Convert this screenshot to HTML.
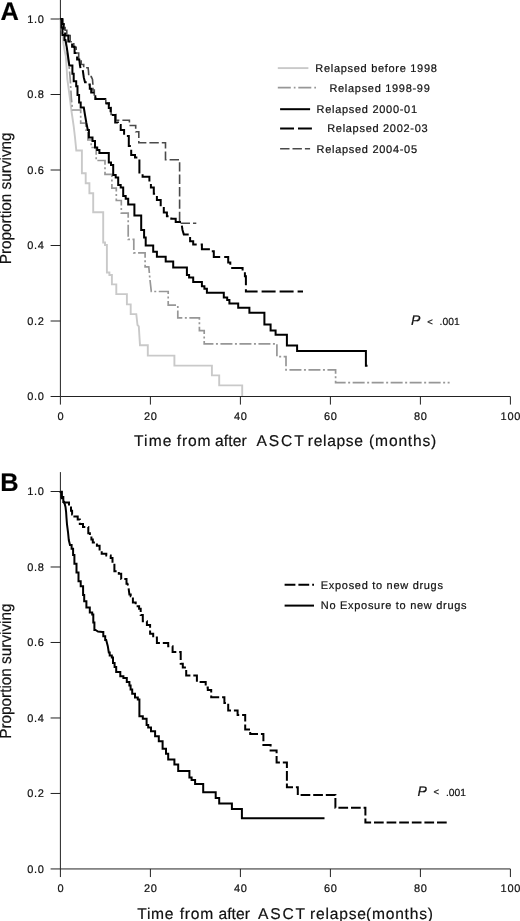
<!DOCTYPE html>
<html><head><meta charset="utf-8"><title>Figure</title>
<style>html,body{margin:0;padding:0;background:#fff}svg{display:block;filter:grayscale(1)}</style>
</head><body>
<svg width="520" height="921" viewBox="0 0 520 921">
<style>
text{font-family:"Liberation Sans",Arial,sans-serif;text-rendering:geometricPrecision;fill:#111;stroke:#111;stroke-width:.2px}
.t{font-size:11px;letter-spacing:.7px}
.ax{font-size:15.6px}
.yl{font-size:16.2px}
.pl{font-size:25.4px;font-weight:bold;fill:#000}
.c{fill:none;stroke-linejoin:miter;stroke-linecap:butt}
</style>
<rect width="520" height="921" fill="#fff"/>
<path d="M60.4,0V396.5" stroke="#222" stroke-width="1" fill="none"/>
<path d="M60.4,396.5H510.4" stroke="#222" stroke-width="1" fill="none"/>
<path d="M50.6,19.00H60.4" stroke="#222" stroke-width="1" fill="none"/>
<text x="44.6" y="22.9" text-anchor="end" class="t">1.0</text>
<path d="M50.6,94.50H60.4" stroke="#222" stroke-width="1" fill="none"/>
<text x="44.6" y="98.4" text-anchor="end" class="t">0.8</text>
<path d="M50.6,170.00H60.4" stroke="#222" stroke-width="1" fill="none"/>
<text x="44.6" y="173.9" text-anchor="end" class="t">0.6</text>
<path d="M50.6,245.50H60.4" stroke="#222" stroke-width="1" fill="none"/>
<text x="44.6" y="249.4" text-anchor="end" class="t">0.4</text>
<path d="M50.6,321.00H60.4" stroke="#222" stroke-width="1" fill="none"/>
<text x="44.6" y="324.9" text-anchor="end" class="t">0.2</text>
<path d="M50.6,396.50H60.4" stroke="#222" stroke-width="1" fill="none"/>
<text x="44.6" y="400.4" text-anchor="end" class="t">0.0</text>
<path d="M60.40,396.5V404.60" stroke="#222" stroke-width="1" fill="none"/>
<text x="60.8" y="419.9" text-anchor="middle" class="t">0</text>
<path d="M150.40,396.5V404.60" stroke="#222" stroke-width="1" fill="none"/>
<text x="150.8" y="419.9" text-anchor="middle" class="t">20</text>
<path d="M240.40,396.5V404.60" stroke="#222" stroke-width="1" fill="none"/>
<text x="240.8" y="419.9" text-anchor="middle" class="t">40</text>
<path d="M330.40,396.5V404.60" stroke="#222" stroke-width="1" fill="none"/>
<text x="330.8" y="419.9" text-anchor="middle" class="t">60</text>
<path d="M420.40,396.5V404.60" stroke="#222" stroke-width="1" fill="none"/>
<text x="420.8" y="419.9" text-anchor="middle" class="t">80</text>
<path d="M510.40,396.5V404.60" stroke="#222" stroke-width="1" fill="none"/>
<text x="510.8" y="419.9" text-anchor="middle" class="t">100</text>
<path class="c" d="M60.5,19.0L61.5,28.0L62.5,36.0L63.5,44.0L64.5,50.0L65.8,56.0L66.5,66.0L67.3,79.0L68.8,90.0L70.0,99.0L71.3,110.0L72.5,118.0L73.8,127.0L75.0,137.5L76.3,150.5H81.9V173.2H85.7V183.2H89.4V193.2H93.2V212.2H103.2V242.5H105.0V245.0H106.9V272.5H109.4V275.0H111.9V284.4H116.3V294.1H126.9V304.4H130.7V314.1H136.3L137.5,325.0L138.8,326.3L140.0,345.2H147.8V355.6H174.4V365.6H211.9V375.4H219.2V385.4H242.2V396.0" stroke="#c9c9c9" stroke-width="1.9"/>
<path class="c" d="M61.0,19.0V27.5H62.2V35.0H63.4H64.3V40.0H65.2L66.5,47.5L67.7,56.0L69.0,65.0L70.3,80.0L71.3,97.5L72.5,110.0H80.7V123.2H85.8V130.0H87.9V140.0H90.0H91.2V147.5H92.5H96.2V160.5H100.0H105.0V174.4H111.9V188.2H116.3V200.5H121.3V213.2H128.2V239.4H133.8V252.8H143.8H145.1V266.8H146.3H148.8L150.0,280.0L151.3,291.5H168.2V305.2H177.8V317.9H199.4V330.6H204.2V343.8H276.9V356.6H285.0H286.0V369.8H287.0H335.6V382.6H449.6" stroke="#979797" stroke-width="1.7" stroke-dasharray="12 2.5 2 2.5"/>
<path class="c" d="M60.5,19.0H63.0V24.2H65.1V30.2H66.8V35.5H70.2V41.8H73.8V47.2H76.2V53.0H78.7V59.5H81.2V64.5H83.7V67.8H88.1L88.5,71.3L88.8,76.6H91.3L92.5,79.4L93.1,86.9L92.8,90.0H94.3V96.0H95.8V98.8H105.8V102.9H109.2V107.5H111.1V114.5H113.0H115.9V120.2H129.4V125.5H135.7V131.8H138.8V142.8H165.5V159.8H179.6V223.2H196.3" stroke="#4a4a4a" stroke-width="1.6" stroke-dasharray="9.4 3"/>
<path class="c" d="M60.5,19.1H61.4V27.5H62.5V35.0H63.6H64.5V40.0H65.5L66.8,47.5L68.0,56.0L69.3,65.5H72.4V73.8H73.7V81.3H75.0H76.2V86.3H77.5V95.0H79.1V102.5H80.7V107.5H83.8L85.0,115.0L86.3,122.5L87.8,130.0H88.9V137.5H90.0H92.5V141.0H95.0V147.5H97.2V150.0H99.4V153.0H108.8V162.5H111.0V165.0H113.2V175.0H115.7V177.5H118.2V185.0H120.7V187.5H123.2V196.0H125.7V198.8H128.2V204.4H134.4V215.5H140.0H141.2V230.0H142.5H144.1V237.5H145.7V245.5H153.2V251.8H156.9V256.8H165.7V261.4H173.2V267.5H186.9V275.0H189.1V277.5H191.3H193.2V281.9H195.0H201.9V286.3H204.4V288.8H206.9V292.8H222.5H223.8V297.5H225.0H227.2V300.0H229.4V303.4H238.2V307.8H249.4V312.8H264.4V324.4H270.6V330.6H275.6V334.8H286.9V345.6H296.3H297.1V351.1H298.0H365.9V365.8H367.5" stroke="#000" stroke-width="2"/>
<path class="c" d="M60.5,19.0H62.0V23.9H63.7V30.1H65.1V35.5H68.3V41.5H72.1V46.8H74.6V53.1H77.1V59.4H79.3L79.9,65.0L80.5,68.2H82.5L83.1,72.5L83.8,77.5L85.0,82.2H88.3V84.4H89.8V88.8H91.2V92.5H93.3V96.3H95.3V99.1H105.3V103.4H108.8V108.0H110.6V115.0H112.5H115.2V122.5H117.9V125.0H120.7V130.0H124.1V136.0H127.5H128.8V146.0H130.0H131.2V155.0H132.5H135.0V157.5H137.5H139.4V172.5H141.3H142.6V176.8H143.8H149.4V183.8H150.9V187.5H152.5H153.8V193.8H155.0H156.9V200.0H158.8H160.7V206.3H162.5H163.8V212.5H165.0H166.9V216.3H168.8H171.3V218.8H173.8H175.7V221.9H177.5H181.3L182.5,230.0L183.8,234.4H188.8H190.1V241.3H191.3H193.2V244.4H195.0H201.9V249.2H208.8H210.7V251.3H212.5H213.8V256.9H215.0H228.2V262.5H230.3V267.9H232.5H241.3H242.6V271.3H243.8H244.9V276.3H245.9V291.5H303.0" stroke="#000" stroke-width="2" stroke-dasharray="14 4"/>
<path class="c" d="M277.8,68.1H308.4" stroke="#c9c9c9" stroke-width="1.9"/>
<path class="c" d="M277.8,87.6H316" stroke="#979797" stroke-width="1.7" stroke-dasharray="13 3 1.7 2.8"/>
<path class="c" d="M280.1,109.2H310.1" stroke="#000" stroke-width="2"/>
<path class="c" d="M280.1,128.4H312" stroke="#000" stroke-width="2" stroke-dasharray="13.9 4"/>
<path class="c" d="M280.1,148.8H310.1" stroke="#4a4a4a" stroke-width="1.6" stroke-dasharray="9.4 3"/>
<text class="t" x="315.3" y="71.7">Relapsed before 1998</text>
<text class="t" x="329.4" y="91.6">Relapsed 1998-99</text>
<text class="t" x="316.6" y="113">Relapsed 2000-01</text>
<text class="t" x="327.2" y="132.4">Relapsed 2002-03</text>
<text class="t" x="316.6" y="152.8">Relapsed 2004-05</text>
<text x="411" y="325" style="font-size:14px;font-style:italic">P</text>
<text class="t" x="427.2" y="324.6" style="font-size:9.5px">&lt;</text>
<text class="t" x="439.6" y="324.8" style="font-size:10.3px;letter-spacing:0">.001</text>
<text class="ax" y="445.8"><tspan x="134.1" style="letter-spacing:1.07px">Time </tspan><tspan x="176.8" style="letter-spacing:0.8px">from </tspan><tspan x="215.0" style="letter-spacing:0.1px">after </tspan><tspan x="256.4" style="letter-spacing:1.95px">ASCT </tspan><tspan x="307.8" style="letter-spacing:0.68px">relapse </tspan><tspan x="369.1" style="letter-spacing:0.81px">(months)</tspan></text>
<text class="yl" transform="translate(11.3,264.3) rotate(-90) scale(0.946,1)">Proportion survivng</text>
<text class="pl" x="0.6" y="20.1">A</text>
<path d="M60.4,472.1V868.95" stroke="#222" stroke-width="1" fill="none"/>
<path d="M60.4,868.95H510.4" stroke="#222" stroke-width="1" fill="none"/>
<path d="M50.6,491.50H60.4" stroke="#222" stroke-width="1" fill="none"/>
<text x="44.6" y="495.4" text-anchor="end" class="t">1.0</text>
<path d="M50.6,566.99H60.4" stroke="#222" stroke-width="1" fill="none"/>
<text x="44.6" y="570.9" text-anchor="end" class="t">0.8</text>
<path d="M50.6,642.48H60.4" stroke="#222" stroke-width="1" fill="none"/>
<text x="44.6" y="646.4" text-anchor="end" class="t">0.6</text>
<path d="M50.6,717.97H60.4" stroke="#222" stroke-width="1" fill="none"/>
<text x="44.6" y="721.9" text-anchor="end" class="t">0.4</text>
<path d="M50.6,793.46H60.4" stroke="#222" stroke-width="1" fill="none"/>
<text x="44.6" y="797.4" text-anchor="end" class="t">0.2</text>
<path d="M50.6,868.95H60.4" stroke="#222" stroke-width="1" fill="none"/>
<text x="44.6" y="872.9" text-anchor="end" class="t">0.0</text>
<path d="M60.40,868.95V877.05" stroke="#222" stroke-width="1" fill="none"/>
<text x="60.8" y="892.4" text-anchor="middle" class="t">0</text>
<path d="M150.40,868.95V877.05" stroke="#222" stroke-width="1" fill="none"/>
<text x="150.8" y="892.4" text-anchor="middle" class="t">20</text>
<path d="M240.40,868.95V877.05" stroke="#222" stroke-width="1" fill="none"/>
<text x="240.8" y="892.4" text-anchor="middle" class="t">40</text>
<path d="M330.40,868.95V877.05" stroke="#222" stroke-width="1" fill="none"/>
<text x="330.8" y="892.4" text-anchor="middle" class="t">60</text>
<path d="M420.40,868.95V877.05" stroke="#222" stroke-width="1" fill="none"/>
<text x="420.8" y="892.4" text-anchor="middle" class="t">80</text>
<path d="M510.40,868.95V877.05" stroke="#222" stroke-width="1" fill="none"/>
<text x="510.8" y="892.4" text-anchor="middle" class="t">100</text>
<path class="c" d="M60.6,491.7V492.0H61.5V497.0H62.4H63.3V502.0H64.2L65.5,507.0L66.1,512.0L66.5,518.0L67.0,524.5L68.0,532.0L68.8,540.0L70.0,545.0H71.6V548.8H73.1V555.0H74.4V563.8H75.6H76.5V572.5H77.5H78.5V581.2H79.4H80.7V586.2H81.9H83.1V595.0H84.2V601.2H86.4V607.5H88.6H89.8V612.5H91.1H92.2V614.4H93.3V622.5H94.4V630.0H95.5L98.0,631.5L102.4,631.9H103.3V636.2H104.2H105.2V640.0H106.2L107.8,646.2L108.8,652.5H109.7V655.6H110.6H111.8V657.5H113.0V663.1H114.6V666.9H116.2V671.9H119.4H120.3V676.2H121.2H123.4V678.1H125.6H126.8V681.9H128.1H129.4V685.6H130.6V689.4H132.2V693.8H133.8H135.0V697.5H136.2H137.8V699.4H139.4V705.0V716.3H142.8V718.8H145.0H146.6V725.0H148.2V727.5H151.0V731.3H153.8H155.1V736.3H156.3H158.8V741.3H161.3H162.6V748.8H163.8H166.0V753.8H168.2V759.4H174.4V764.4H178.2V771.0H189.4V777.5H191.6V780.0H193.8H195.1V784.1H196.3H203.2V792.2H215.7V798.1H219.2V803.5H231.9V809.1H241.9V818.3H324.5" stroke="#000" stroke-width="2"/>
<path class="c" d="M60.5,491.7H61.8V498.3H63.0H64.0V502.6H64.9H68.0H69.0V505.8H69.9H71.0V510.8H72.1V514.5H74.4V516.4H76.8H77.7V519.5H78.6H79.8V523.9H81.1H83.0V527.0H84.9H88.3V533.3H89.9V535.1H91.4V539.5H92.8V542.6H94.2H96.9V545.8H99.6V550.6H101.7V553.8H103.8H106.3V555.6H108.8H110.7V558.1H112.5V563.8H114.4V571.3H116.3H118.8V573.8H121.2V579.1H125.6H126.5V583.8H127.5L128.5,587.5L129.4,594.4H130.7V596.3H131.9H132.9V602.5H133.8H135.7V606.3H137.5H139.1V608.8H140.7V615.0H142.8V621.3H145.0H146.9V625.0H148.8H150.1V633.8H151.3H153.2V637.5H155.0H156.9V643.1H158.8H165.0H168.2V646.3H171.3H172.6V651.9H173.8H180.7V663.8H182.8V667.5H185.0H186.2V675.6H187.5H195.0H196.9V681.9H198.8H205.7V687.5H207.8V690.0H210.0H211.2V697.2H212.5H224.4V703.1H228.2V710.6H236.3H237.6V715.0H238.8H245.2V729.4H250.2V734.0H263.4V745.0H270.6V750.4H276.6V762.5H286.9V787.2H297.8V795.1H335.4V807.7H365.4V822.5H449.0" stroke="#000" stroke-width="2" stroke-dasharray="9.7 2.9"/>
<path class="c" d="M284.6,584.8H314" stroke="#000" stroke-width="2" stroke-dasharray="10.8 3"/>
<path class="c" d="M284.6,605.6H314" stroke="#000" stroke-width="2"/>
<text class="t" x="320.8" y="588.7">Exposed to new drugs</text>
<text class="t" x="320.8" y="609.2">No Exposure to new drugs</text>
<text x="417.5" y="795.8" style="font-size:14px;font-style:italic">P</text>
<text class="t" x="433.5" y="795.4" style="font-size:9.5px">&lt;</text>
<text class="t" x="446" y="795.6" style="font-size:10.3px;letter-spacing:0">.001</text>
<text class="ax" y="918.6"><tspan x="137.3" style="letter-spacing:0.67px">Time </tspan><tspan x="179.8" style="letter-spacing:0.73px">from </tspan><tspan x="218.4" style="letter-spacing:0.1px">after </tspan><tspan x="258.0" style="letter-spacing:1.8px">ASCT </tspan><tspan x="310" style="letter-spacing:0.8px">relapse</tspan><tspan x="366.1" style="letter-spacing:0.75px">(months)</tspan></text>
<text class="yl" transform="translate(11.3,738.8) rotate(-90) scale(0.946,1)">Proportion surviving</text>
<text class="pl" x="0.3" y="491.2">B</text>
</svg>
</body></html>
